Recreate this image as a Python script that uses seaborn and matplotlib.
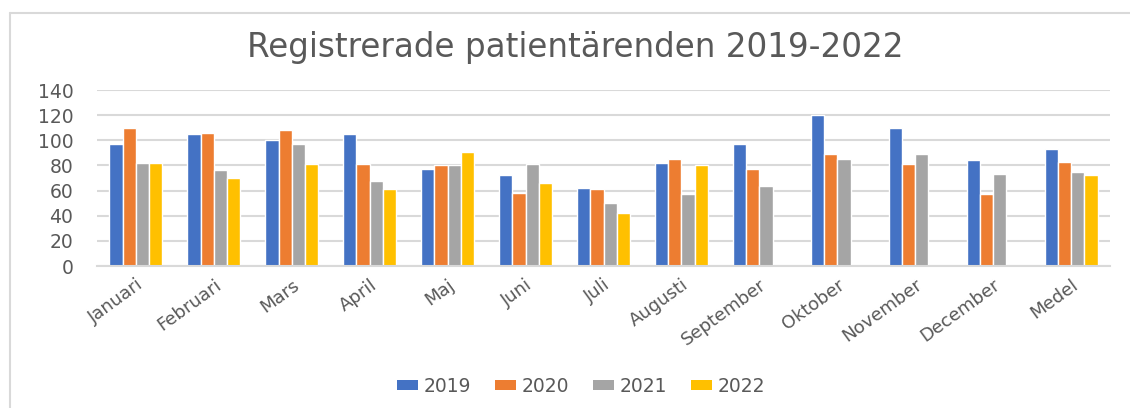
import numpy as np
import pandas as pd
import matplotlib
matplotlib.use("Agg")
import matplotlib.pyplot as plt
import seaborn as sns
from matplotlib.lines import Line2D
from matplotlib.patches import Patch

months = ["Januari", "Februari", "Mars", "April", "Maj", "Juni", "Juli",
          "Augusti", "September", "Oktober", "November", "December", "Medel"]
years = ["2019", "2020", "2021", "2022"]
v2019 = [97, 105, 100, 105, 77, 72, 62, 82, 97, 120, 110, 84, 93]
v2020 = [110, 106, 108, 81, 80, 58, 61, 85, 77, 89, 81, 57, 83]
v2021 = [82, 76, 97, 68, 80, 81, 50, 57, 64, 85, 89, 73, 75]
v2022 = [82, 70, 81, 61, 91, 66, 42, 80, np.nan, np.nan, np.nan, np.nan, 72]
colors = ["#4472C4", "#ED7D31", "#A5A5A5", "#FFC000"]

rows = []
for y, vals in zip(years, [v2019, v2020, v2021, v2022]):
    for m, v in zip(months, vals):
        rows.append({"Månad": m, "År": y, "Antal": v})
df = pd.DataFrame(rows)

sns.set_theme(style="white")
plt.rcParams["font.family"] = ["DejaVu Sans"]

fig = plt.figure(figsize=(11.3, 4.08), dpi=100)
ax = fig.add_axes([97/1130, 1-266/408, (1110-97)/1130, (266-90)/408])

sns.barplot(data=df, x="Månad", y="Antal", hue="År", order=months,
            hue_order=years, palette=colors, saturation=1, width=0.68, ax=ax,
            edgecolor="white", linewidth=1.0, errorbar=None, legend=False)

ax.set_ylim(0, 140)
ax.set_xlim(-0.5, len(months) - 0.5)
ax.set_yticks(range(0, 141, 20))
ax.yaxis.grid(True, color="#d9d9d9", linewidth=1.5)
ax.set_axisbelow(True)
for s in ["top", "right", "left"]:
    ax.spines[s].set_visible(False)
ax.spines["bottom"].set_color("#d9d9d9")
ax.spines["bottom"].set_linewidth(1.5)
ax.set_xlabel("")
ax.set_ylabel("")
ax.tick_params(axis="y", length=0, pad=17, labelsize=13.5, labelcolor="#595959")
ax.tick_params(axis="x", length=0, pad=7, labelsize=13, labelcolor="#595959")
plt.setp(ax.get_xticklabels(), rotation=36, ha="right", rotation_mode="anchor")

fig.text(575/1130, 1-47/408, "Registrerade patientärenden 2019-2022",
         ha="center", va="center", fontsize=23.5, color="#595959")

handles = [Patch(facecolor=c, edgecolor="none") for c in colors]
fig.legend(handles, years, loc="center", bbox_to_anchor=(581/1130, 1-386/408),
           ncol=4, frameon=False, fontsize=13.5, handlelength=1.1,
           handleheight=0.5, handletextpad=0.3, columnspacing=1.3,
           labelcolor="#595959")

# chart border (top and left)
fig.add_artist(Line2D([10/1130, 1], [1-13/408, 1-13/408], color="#d9d9d9",
                      linewidth=1.5, transform=fig.transFigure))
fig.add_artist(Line2D([10/1130, 10/1130], [0, 1-13/408], color="#d9d9d9",
                      linewidth=1.5, transform=fig.transFigure))

fig.savefig("out.png", dpi=100)
